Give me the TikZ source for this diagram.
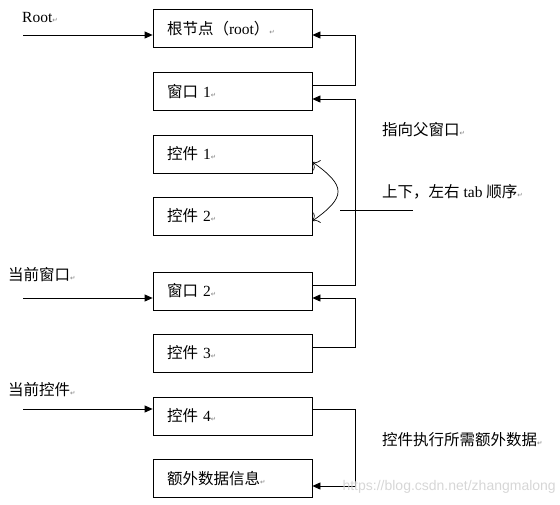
\documentclass[tikz,border=0pt]{standalone}
\usepackage{fontspec}
\setmainfont{Liberation Serif}
\newfontfamily\cjk{Noto Sans CJK SC}
\newfontfamily\symfont{DejaVu Sans}
\newfontfamily\wmfont{Liberation Sans}
\usetikzlibrary{arrows.meta}
\newcommand{\zh}[1]{{\cjk #1}}
\newcommand{\ret}{{\symfont\fontsize{6.5}{7}\selectfont\color{gray}↵}}

\begin{document}
\begin{tikzpicture}[x=1pt,y=-1pt,
  box/.style={draw,line width=0.8pt,minimum width=159pt,minimum height=38pt,
    inner xsep=14pt,text width=131pt,align=left,font=\fontsize{15.5}{17}\selectfont},
  lbl/.style={anchor=west,inner sep=0pt,font=\fontsize{15.5}{17}\selectfont},
  arr/.style={-{Triangle[length=8pt,width=7pt]},line width=0.8pt}]
\useasboundingbox (0,0) rectangle (560,504);
% boxes
\foreach \n/\y/\txt in {root/28.5/{\zh{根节点（}root\zh{）}},
  winA/91.5/{\zh{窗口} 1},ctlA/154/{\zh{控件} 1},ctlB/216/{\zh{控件} 2},
  winB/291/{\zh{窗口} 2},ctlC/353/{\zh{控件} 3},ctlD/416/{\zh{控件} 4},
  extra/478.5/{\zh{额外数据信息}}}
  \node[box] (\n) at (232.5,\y) {\txt\ret};
% labels
\node[lbl] (lRoot) at (22,17) {Root\ret};
\node[lbl] (lWin) at (8,275) {\zh{当前窗口}\ret};
\node[lbl] (lCtl) at (8,390) {\zh{当前控件}\ret};
\node[lbl] (lParent) at (382,130) {\zh{指向父窗口}\ret};
\node[lbl] (lTab) at (382,192) {\zh{上下，左右} tab \zh{顺序}\ret};
\node[lbl] (lData) at (382,440) {\zh{控件执行所需额外数据}\ret};
% entry arrows
\coordinate (inRoot) at (23,35);
\coordinate (inWin) at (23,298);
\coordinate (inCtl) at (23,409);
\draw[arr] (inRoot) -- ([yshift=-6.5pt]root.west);
\draw[arr] (inWin) -- ([yshift=-7pt]winB.west);
\draw[arr] (inCtl) -- ([yshift=7pt]ctlD.west);
% parent links
\draw[arr] ([yshift=6.5pt]winA.east) -- ++(43,0) |- ([yshift=-6.5pt]root.east);
\draw[arr] ([yshift=6pt]winB.east) -- ++(43,0) |- ([yshift=-7.5pt]winA.east);
\draw[arr] ([yshift=6pt]ctlC.east) -- ++(43,0) |- ([yshift=-7pt]winB.east);
\draw[arr] ([yshift=7pt]ctlD.east) -- ++(43,0) |- ([yshift=-7.5pt]extra.east);
% tab order
\draw[{To[length=6pt]}-{To[length=6pt]},line width=0.7pt] ([yshift=-8pt]ctlA.east)
  .. controls +(34,24) and +(34,-24) .. ([yshift=-5pt]ctlB.east);
\coordinate (tabL) at (340,210);
\coordinate (tabR) at (413,210);
\draw[line width=0.8pt] (tabL) -- (tabR);
% watermark
\node[anchor=east,inner sep=0pt,text=gray!35,opacity=0.9,
  font=\wmfont\fontsize{14}{16}\selectfont] (mark) at (556,487)
  {https://blog.csdn.net/zhangmalong};
\end{tikzpicture}
\end{document}
